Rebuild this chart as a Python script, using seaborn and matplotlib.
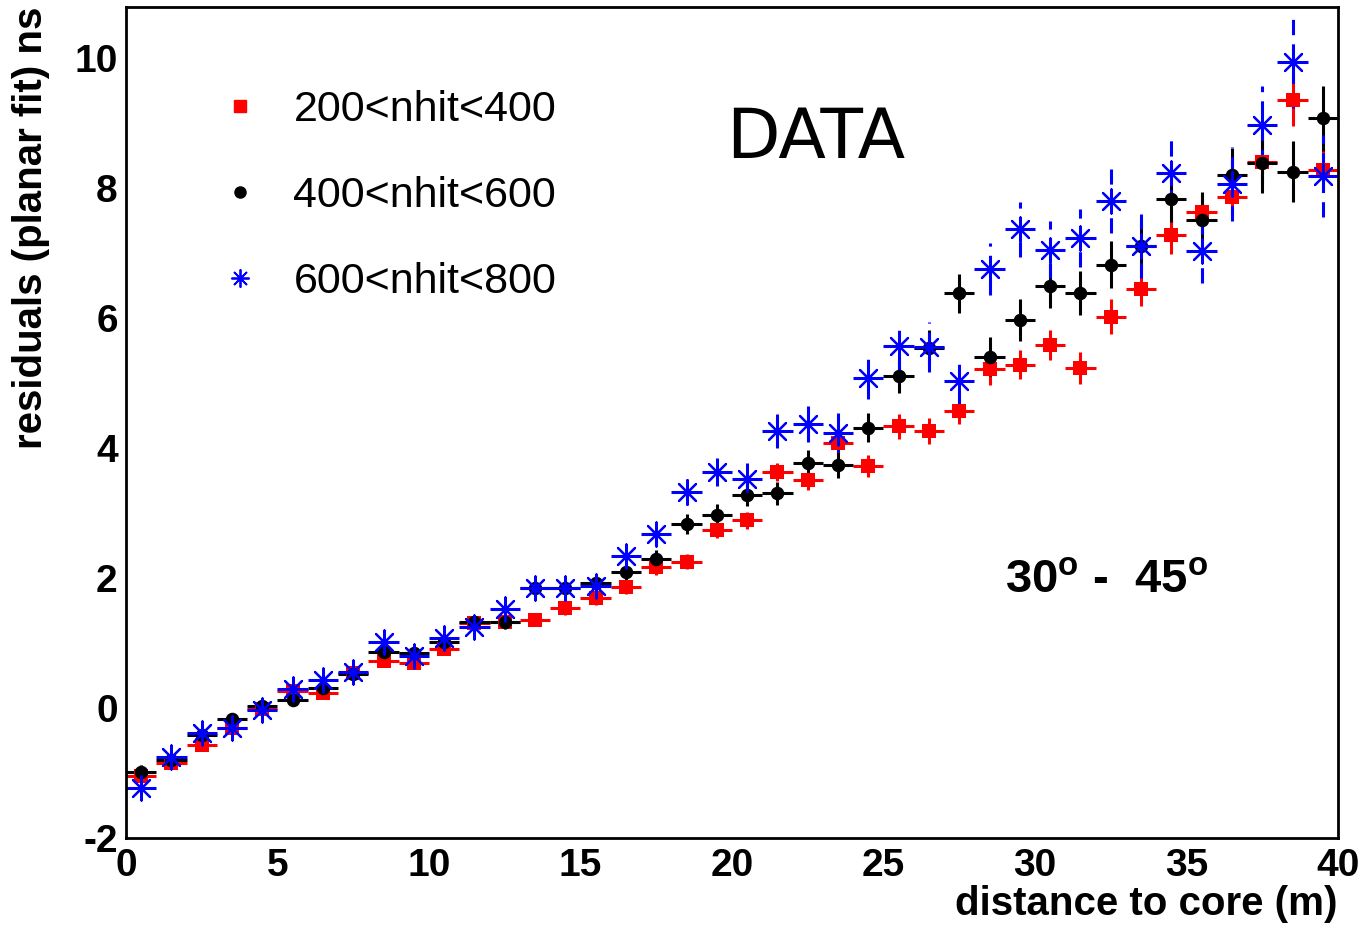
import numpy as np
import pandas as pd
import matplotlib
matplotlib.use("Agg")
import matplotlib.pyplot as plt
import seaborn as sns
from matplotlib.lines import Line2D

# ---------------- data ----------------
dist = np.arange(40) + 0.5   # bin centres, 1 m bins

res_low = [-1.05, -0.85, -0.57, -0.31, -0.02, 0.26, 0.23, 0.54, 0.72, 0.69,
           0.91, 1.31, 1.32, 1.35, 1.53, 1.69, 1.86, 2.17, 2.25, 2.74,
           2.89, 3.63, 3.50, 4.08, 3.72, 4.33, 4.26, 4.57, 5.21, 5.28,
           5.58, 5.23, 6.02, 6.45, 7.27, 7.63, 7.86, 8.40, 9.35, 8.27]
err_low = [0.06, 0.05, 0.05, 0.05, 0.05, 0.06, 0.06, 0.06, 0.07, 0.07,
           0.08, 0.08, 0.09, 0.09, 0.10, 0.10, 0.11, 0.12, 0.12, 0.13,
           0.13, 0.14, 0.15, 0.16, 0.17, 0.19, 0.20, 0.21, 0.24, 0.22,
           0.23, 0.25, 0.27, 0.27, 0.29, 0.28, 0.30, 0.32, 0.40, 0.33]

res_mid = [-0.98, -0.80, -0.42, -0.17, 0.03, 0.12, 0.30, 0.52, 0.86, 0.84,
           1.02, 1.32, 1.32, 1.85, 1.85, 1.92, 2.09, 2.29, 2.83, 2.97,
           3.28, 3.30, 3.77, 3.74, 4.31, 5.11, 5.54, 6.38, 5.40, 5.97,
           6.49, 6.38, 6.82, 7.10, 7.83, 7.50, 8.19, 8.38, 8.25, 9.07]
err_mid = [0.10, 0.07, 0.06, 0.06, 0.06, 0.06, 0.07, 0.07, 0.08, 0.08,
           0.09, 0.10, 0.10, 0.11, 0.12, 0.12, 0.13, 0.14, 0.15, 0.16,
           0.17, 0.18, 0.19, 0.20, 0.22, 0.26, 0.27, 0.30, 0.30, 0.32,
           0.34, 0.34, 0.36, 0.38, 0.35, 0.43, 0.42, 0.46, 0.47, 0.50]

res_high = [-1.23, -0.75, -0.38, -0.31, -0.03, 0.29, 0.43, 0.55, 1.01, 0.80,
            1.07, 1.25, 1.52, 1.85, 1.85, 1.87, 2.34, 2.68, 3.32, 3.63,
            3.52, 4.26, 4.37, 4.23, 5.08, 5.57, 5.55, 5.03, 6.75, 7.36,
            7.05, 7.23, 7.80, 7.10, 8.23, 7.03, 8.06, 8.96, 9.93, 8.18]
err_high = [0.10, 0.08, 0.07, 0.07, 0.07, 0.07, 0.08, 0.09, 0.10, 0.10,
            0.10, 0.11, 0.12, 0.13, 0.13, 0.14, 0.17, 0.18, 0.20, 0.22,
            0.24, 0.26, 0.28, 0.30, 0.33, 0.37, 0.38, 0.35, 0.40, 0.42,
            0.44, 0.45, 0.49, 0.49, 0.50, 0.49, 0.57, 0.61, 0.70, 0.63]

labels = ["200<nhit<400", "400<nhit<600", "600<nhit<800"]

# ---------------- style ----------------
sns.set_style("white")
plt.rcParams["font.family"] = ["Liberation Sans", "DejaVu Sans"]
plt.rcParams["mathtext.fontset"] = "custom"
plt.rcParams["mathtext.rm"] = "Liberation Sans"
plt.rcParams["mathtext.bf"] = "Liberation Sans:bold"
plt.rcParams["axes.unicode_minus"] = False
plt.rcParams["text.color"] = "black"
plt.rcParams["axes.labelcolor"] = "black"

df = pd.concat([
    pd.DataFrame({"dist": dist, "res": res_low, "err": err_low, "sel": labels[0]}),
    pd.DataFrame({"dist": dist, "res": res_mid, "err": err_mid, "sel": labels[1]}),
    pd.DataFrame({"dist": dist, "res": res_high, "err": err_high, "sel": labels[2]}),
])

colors = {labels[0]: "#ff0000", labels[1]: "#000000", labels[2]: "#0000ff"}
markers = {labels[0]: "s", labels[1]: "o", labels[2]: (8, 2, 0)}
sizes = {labels[0]: 95, labels[1]: 95, labels[2]: 300}

fig = plt.figure(figsize=(13.65, 9.27), dpi=100)
ax = fig.add_axes([0.0923, 0.096, 0.8879, 0.8964])

for lab in labels:
    d = df[df["sel"] == lab]
    eb = ax.errorbar(d["dist"], d["res"], xerr=0.5, yerr=d["err"], fmt="none",
                     ecolor=colors[lab], elinewidth=2.2, capsize=0, zorder=2)
    if lab == labels[2]:
        for lc in eb[2]:
            lc.set_linestyle((0, (5, 3)))
    sns.scatterplot(data=d, x="dist", y="res", color=colors[lab], marker=markers[lab],
                    s=sizes[lab], linewidth=1.6 if lab == labels[2] else 0,
                    edgecolor=colors[lab], ax=ax, zorder=3, legend=False)

ax.set_xlim(0, 40)
ax.set_ylim(-2, 10.78)

# ROOT-ish ticks
ax.set_xticks(np.arange(0, 41, 5))
ax.set_xticks(np.arange(0, 41, 1), minor=True)
ax.set_yticks(np.arange(-2, 11, 2))
ax.set_yticks(np.arange(-2, 10.8, 0.5), minor=True)
ax.tick_params(axis="both", which="both", direction="in", width=2, colors="black",
               top=False, right=False)
ax.tick_params(axis="x", which="major", length=17, pad=7, labelsize=28)
ax.tick_params(axis="x", which="minor", length=8.5)
ax.tick_params(axis="y", which="major", length=23, pad=6, labelsize=28)
ax.tick_params(axis="y", which="minor", length=12)
for lbl in ax.get_xticklabels() + ax.get_yticklabels():
    lbl.set_fontweight("bold")
for sp in ax.spines.values():
    sp.set_linewidth(2)
    sp.set_color("black")

ax.set_xlabel("distance to core (m)", fontsize=29, fontweight="bold", loc="right")
ax.xaxis.set_label_coords(1.0, -0.056)
ax.set_ylabel("residuals (planar fit) ns", fontsize=29, fontweight="bold", loc="top")
ax.yaxis.label.set_va("center")
ax.yaxis.set_label_coords(-0.078, 1.0)

# legend
handles = [
    Line2D([], [], linestyle="none", marker="s", color="#ff0000", markersize=9),
    Line2D([], [], linestyle="none", marker="o", color="#000000", markersize=8),
    Line2D([], [], linestyle="none", marker=(8, 2, 0), color="#0000ff",
           markersize=13, markeredgewidth=1.3),
]
ax.legend(handles, labels, loc="upper left", bbox_to_anchor=(0.044, 0.947),
          frameon=False, fontsize=31, labelspacing=1.07, handletextpad=0.75,
          handlelength=1.0)

ax.text(0.495, 0.842, "DATA", transform=ax.transAxes, fontsize=50,
        family=["DejaVu Sans"], ha="left", va="center")
ax.text(0.725, 0.31, r"30$^{\mathbf{o}}$ -  45$^{\mathbf{o}}$", transform=ax.transAxes,
        fontsize=34, fontweight="bold", ha="left", va="center")

fig.savefig("out.png", dpi=100)
